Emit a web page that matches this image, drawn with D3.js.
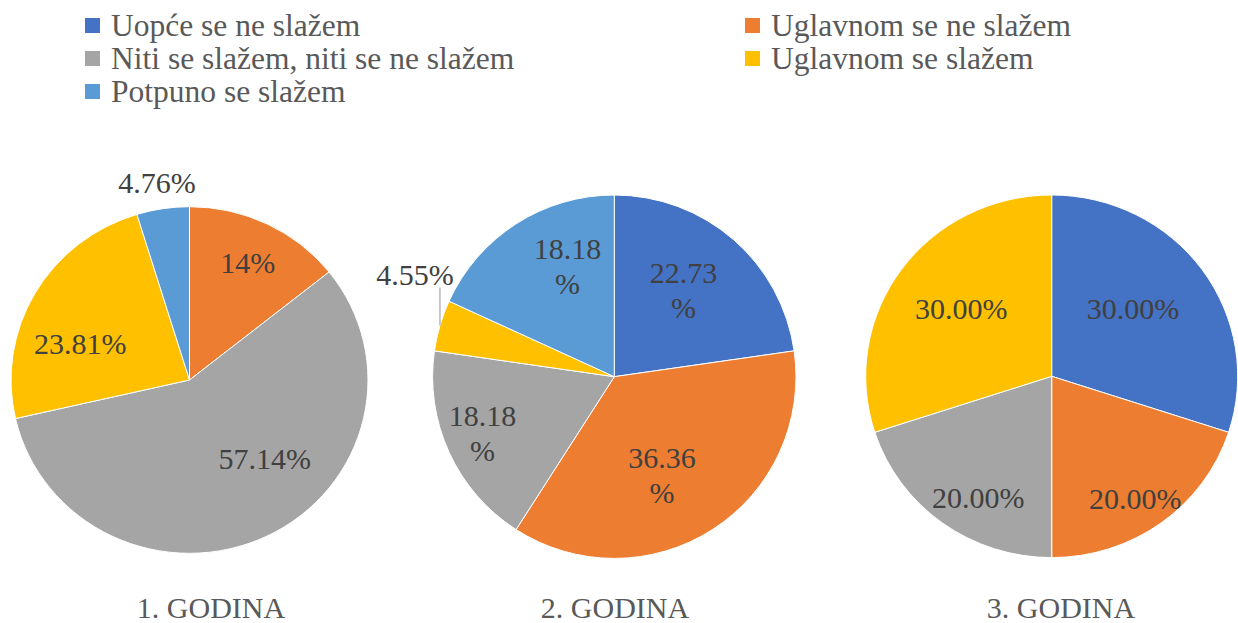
<!DOCTYPE html>
<html>
<head>
<meta charset="utf-8">
<script src="https://cdn.jsdelivr.net/npm/d3@7"></script>
<style>
  html, body { margin: 0; padding: 0; background: #fff; }
  svg { display: block; font-family: "Liberation Serif", "Times New Roman", serif; }
</style>
</head>
<body>
<svg id="chart" width="1238" height="623"></svg>
<script>
// ---- Data ----
const categories = [
  "Uopće se ne slažem",
  "Uglavnom se ne slažem",
  "Niti se slažem, niti se ne slažem",
  "Uglavnom se slažem",
  "Potpuno se slažem"
];
const values1 = [0, 14.29, 57.14, 23.81, 4.76];
const labels1 = ["", "14%", "57.14%", "23.81%", "4.76%"];
const values2 = [22.73, 36.36, 18.18, 4.55, 18.18];
const labels2 = ["22.73%", "36.36%", "18.18%", "4.55%", "18.18%"];
const values3 = [30, 20, 20, 30, 0];
const labels3 = ["30.00%", "20.00%", "20.00%", "30.00%", ""];
const titles = ["1. GODINA", "2. GODINA", "3. GODINA"];

// ---- Styles / layout ----
const colors = ["#4472C4", "#ED7D31", "#A5A5A5", "#FFC000", "#5B9BD5"];
const labelColor = "#404040";
const textColor = "#595959";

const svg = d3.select("#chart");

const color = d3.scaleOrdinal().domain(categories).range(colors);

// Legend
const legendCols = [85, 745];
const legendRows = [36, 69, 102];
categories.forEach((c, i) => {
  const col = i % 2, row = Math.floor(i / 2);
  const g = svg.append("g").attr("transform", `translate(${legendCols[col]},${legendRows[row]})`);
  g.append("rect").attr("x", 0).attr("y", -18).attr("width", 15).attr("height", 15).attr("fill", color(c));
  g.append("text").attr("x", 26).attr("y", 0)
    .attr("font-size", 31.5).attr("fill", textColor).text(c);
});

// Pies
const pies = [
  { values: values1, labels: labels1, cx: 189.5, cy: 380, r: 173.3, sx: 1.03, tx: 211, wrap: false,
    nudge: [[0,0],[4,-8],[21,-31],[-1,24],[-2,0]], outside: { 4: "plain" } },
  { values: values2, labels: labels2, cx: 614.3, cy: 376.7, r: 181.7, sx: 1.0, tx: 615, wrap: true,
    nudge: [[-14,9],[-21,-9],[-16,3],[0,0],[22,-4]], outside: { 3: "leader" } },
  { values: values3, labels: labels3, cx: 1051.7, cy: 376.3, r: 181.3, sx: 1.026, tx: 1061, wrap: false,
    nudge: [[-24,7],[7,20],[3,19],[15,7],[0,0]], outside: {} }
];

const pieGen = d3.pie().sort(null).value(d => d.v);

pies.forEach((p, pi) => {
  const data = p.values.map((v, i) => ({ v, cat: categories[i], label: p.labels[i], i }));
  const arcs = pieGen(data);
  const arc = d3.arc().innerRadius(0).outerRadius(p.r);
  const labelArc = d3.arc().innerRadius(p.r * 0.7).outerRadius(p.r * 0.7);
  const outerArc = d3.arc().innerRadius(p.r * 1.15).outerRadius(p.r * 1.15);
  const edgeArc = d3.arc().innerRadius(p.r).outerRadius(p.r);

  const g = svg.append("g").attr("transform", `translate(${p.cx},${p.cy})`);
  const slices = g.append("g").attr("transform", `scale(${p.sx},1)`);
  slices.selectAll("path").data(arcs.filter(a => a.data.v > 0)).join("path")
    .attr("d", arc)
    .attr("fill", d => color(d.data.cat))
    .attr("stroke", "#fff")
    .attr("stroke-width", 1)
    .attr("vector-effect", "non-scaling-stroke");

  const lg = g.append("g");
  arcs.filter(a => a.data.v > 0 && a.data.label).forEach(a => {
    const i = a.data.i;
    const mode = p.outside[i];
    if (mode === "plain") {
      const [x, y] = outerArc.centroid(a);
      lg.append("text").attr("x", x * p.sx + p.nudge[i][0]).attr("y", y + p.nudge[i][1])
        .attr("dy", "0.35em").attr("text-anchor", "middle")
        .attr("font-size", 30).attr("fill", labelColor).text(a.data.label);
    } else if (mode === "leader") {
      const [ex, ey] = edgeArc.centroid(a);
      const x = ex * p.sx;
      lg.append("line").attr("x1", x).attr("y1", ey).attr("x2", x).attr("y2", ey - 38)
        .attr("stroke", "#A6A6A6").attr("stroke-width", 1.2);
      lg.append("text").attr("x", x - 25).attr("y", ey - 41)
        .attr("text-anchor", "middle")
        .attr("font-size", 30).attr("fill", labelColor).text(a.data.label);
    } else {
      const [x0, y0] = labelArc.centroid(a);
      const x = x0 * p.sx + p.nudge[i][0];
      const y = y0 + p.nudge[i][1];
      const t = lg.append("text").attr("text-anchor", "middle")
        .attr("font-size", 30).attr("fill", labelColor);
      if (p.wrap) {
        const num = a.data.label.replace("%", "");
        t.append("tspan").attr("x", x).attr("y", y - 17.5).attr("dy", "0.35em").text(num);
        t.append("tspan").attr("x", x).attr("y", y + 17.5).attr("dy", "0.35em").text("%");
      } else {
        t.attr("x", x).attr("y", y).attr("dy", "0.35em").text(a.data.label);
      }
    }
  });

  svg.append("text").attr("x", p.tx).attr("y", 618).attr("text-anchor", "middle")
    .attr("font-size", 30).attr("fill", textColor).text(titles[pi]);
});
</script>
</body>
</html>
